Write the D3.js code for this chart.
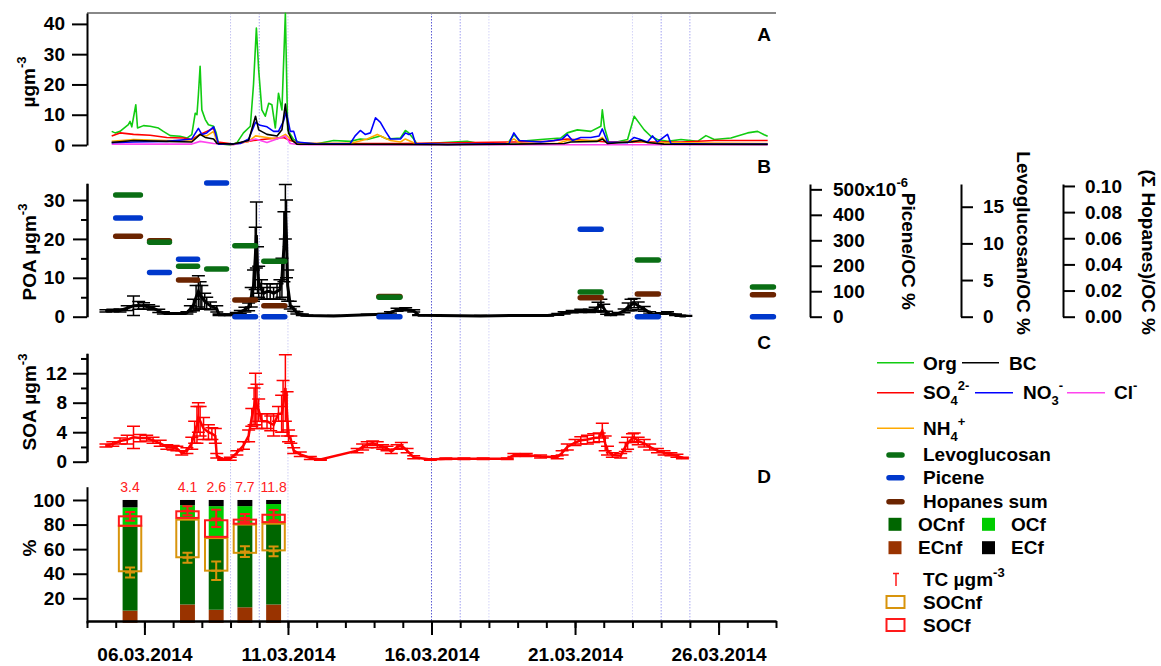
<!DOCTYPE html>
<html>
<head>
<meta charset="utf-8">
<script src="https://cdn.jsdelivr.net/npm/d3@7"></script>
<style>
  body { margin: 0; background: #fff; }
  text { font-family: "Liberation Sans", Arial, sans-serif; }
</style>
</head>
<body>
<svg id="chart" width="1161" height="666"></svg>
<script>
// ---- data (day of March 2014, value) ----
// panel A, aerosol species in µg m-3
const org = [[4.86,4.5],[4.98,4],[5.15,4.5],[5.44,6.7],[5.5,7.8],[5.56,6],[5.7,13.3],[5.76,5.6],[5.97,6.4],[6.2,6.2],[6.49,5.6],[6.66,4.5],[6.9,3.1],[7.24,2.9],[7.48,2.3],[7.65,3.4],[7.77,10.5],[7.83,10],[7.88,16.6],[7.94,26],[8.0,11.6],[8.12,8.4],[8.23,6.7],[8.41,6.2],[8.5,4],[8.58,0.4],[8.99,0],[9.22,0.7],[9.45,4],[9.69,6.2],[9.8,20],[9.9,38.6],[9.98,24.8],[10.09,11.6],[10.21,9.5],[10.33,13.8],[10.44,13.3],[10.56,5.6],[10.67,17.1],[10.79,11.6],[10.91,43.5],[10.99,5],[11.2,1.8],[11.43,0.7],[12.01,0.4],[12.59,1.5],[13.17,1.2],[13.52,2],[13.76,1.8],[14.22,3],[14.45,2],[14.92,2.3],[15.09,4.8],[15.21,4],[15.38,2],[15.5,0.3],[17.24,1.2],[17.71,0.4],[18.65,0.5],[18.87,3.4],[19.1,1.2],[19.8,1.8],[20.5,2.3],[20.73,4],[21.08,5],[21.55,4.5],[21.9,6.2],[21.95,11.6],[22.03,5.6],[22.19,0.4],[22.83,1.8],[23.06,9.5],[23.23,7.3],[23.41,5],[23.64,2.9],[23.87,1.8],[24.22,1.2],[24.69,1.8],[25.27,1.2],[25.56,3.1],[25.85,1.8],[26.43,2.3],[27.01,4],[27.36,4.5],[27.59,3.4],[27.71,2.9]];
const bc = [[4.86,0.8],[5.62,1.5],[6.78,1.2],[7.65,1],[7.94,3.5],[8.12,2.5],[8.41,2],[8.53,0.5],[9.1,0.3],[9.63,1.5],[9.87,9.5],[9.98,5],[10.27,3.5],[10.62,3],[10.79,5],[10.91,13.5],[11.02,4],[11.15,1.5],[11.31,0.3],[14.92,0.2],[16.55,0.1],[18.87,0.3],[20.62,0.5],[20.85,1],[21.78,1.2],[21.95,2],[22.13,0.5],[22.94,1],[23.29,1.5],[23.52,0.8],[24.1,0.3],[27.71,0.2]];
const so4 = [[4.86,3],[5.15,4],[5.62,3.5],[6.2,3.2],[6.78,2.5],[7.36,2.3],[7.65,1.8],[7.94,3.5],[8.17,4.5],[8.41,5.5],[8.55,1],[9.1,0.3],[9.8,1.5],[10.27,2],[10.85,2.5],[11.08,1.5],[11.43,0.5],[14.92,0.5],[18.87,1],[20.04,1.2],[20.73,2],[21.43,1.5],[22.13,1],[24.69,1],[25.85,1.5],[27.71,1.5]];
const no3 = [[4.86,0.8],[5.62,1],[6.78,1.2],[7.65,2],[7.88,5.5],[8.0,3.5],[8.17,4],[8.41,6],[8.5,3],[8.58,0.3],[9.34,0.5],[9.63,2],[9.87,7.5],[10.03,6.5],[10.27,6],[10.5,4.5],[10.67,4.5],[10.85,8],[10.94,11],[11.08,4.5],[11.2,4.5],[11.31,1],[12.01,0.3],[13.17,0.5],[13.34,3],[13.52,4.8],[13.69,3.5],[13.87,4],[14.05,9],[14.22,7.5],[14.4,4.5],[14.57,2],[14.92,2],[15.09,4],[15.21,3.5],[15.33,4],[15.44,0.5],[16.55,0.2],[18.7,0.5],[18.87,4],[19.05,1.5],[19.8,1],[20.27,1.5],[20.56,2],[20.73,3.5],[20.91,1.5],[21.2,2.5],[21.55,2.5],[21.84,3],[21.95,5.3],[22.13,1],[22.83,0.8],[23.06,2.5],[23.23,2],[23.52,1],[23.7,3],[23.87,1],[24.22,3.5],[24.34,0.5],[25.85,0.3],[27.71,0.3]];
const nh4 = [[4.86,1.2],[5.62,1.8],[6.78,1.5],[7.65,1.3],[7.94,3.5],[8.17,3],[8.41,4.5],[8.55,0.5],[9.1,0.2],[9.63,1.2],[9.87,3],[10.27,2.5],[10.62,2],[10.91,3.5],[11.08,2],[11.31,0.5],[13.17,0.5],[13.76,2],[14.11,3.5],[14.57,1.5],[14.92,1],[15.09,2],[15.44,0.5],[16.0,0.3],[18.6,0.4],[18.87,2],[19.1,0.5],[20.4,0.6],[20.73,1.5],[21.78,1.5],[21.95,2.5],[22.13,0.5],[23.06,1.5],[23.52,0.8],[27.71,0.5]];
const cl = [[4.86,0.3],[7.65,0.3],[7.94,1.2],[8.41,0.5],[9.1,0.1],[9.87,2],[10.27,0.8],[10.91,3],[11.08,0.5],[11.43,0.1],[27.71,0.1]];

// panel B, POA (day, value, error)
const poa = [[4.66,1.5,0.3],[4.9,1.6,0.3],[5.15,1.6,0.4],[5.4,2.2,0.6],[5.62,2.8,2.5],[5.8,2.9,1],[5.97,2.8,0.8],[6.15,2.5,0.6],[6.31,2.2,0.5],[6.5,1.5,0.4],[6.66,1,0.3],[6.9,0.8,0.2],[7.24,0.8,0.2],[7.48,1,0.3],[7.6,2,0.8],[7.71,3,1.5],[7.8,5,3],[7.88,6.5,4],[7.94,5.5,3.5],[8.0,5,3],[8.1,4,2],[8.17,3.5,1.5],[8.3,2.8,1],[8.52,2,0.8],[8.6,0.5,0.2],[8.99,0.5,0.2],[9.2,0.8,0.3],[9.34,1.2,0.4],[9.5,1.8,0.6],[9.63,2.5,1],[9.72,5,2.5],[9.8,8,4],[9.86,15,8],[9.9,21,8.5],[9.94,12,6],[9.98,9,4],[10.08,7,2.5],[10.15,6,1.5],[10.27,6.5,2],[10.38,6.5,2],[10.5,6,1.5],[10.62,6.5,2],[10.72,7,2.5],[10.79,10,5],[10.86,18,9],[10.91,27,7],[10.95,20,10],[10.99,8,4],[11.08,3,1],[11.2,2,0.6],[11.31,1,0.3],[11.5,0.5,0.2],[11.66,0.3,0.1],[12.59,0.2,0.1],[13.76,0.5,0.1],[14.34,0.6,0.2],[14.57,1,0.3],[14.8,1.8,0.4],[15.1,1.9,0.4],[15.38,1.5,0.3],[15.55,0.4,0.1],[17.71,0.2,0.1],[18.87,0.3,0.1],[20.04,0.3,0.1],[20.4,0.6,0.2],[20.62,1,0.3],[20.9,1.3,0.3],[21.2,1.5,0.4],[21.5,1.5,0.4],[21.7,1.8,0.6],[21.8,2.5,1.2],[21.9,3,1.5],[22.0,2.2,1],[22.1,1,0.4],[22.24,0.5,0.2],[22.5,0.8,0.3],[22.71,1.5,0.5],[22.85,2.5,1],[22.95,3,1.5],[23.06,3.5,1.2],[23.2,2.8,1],[23.41,2,0.6],[23.6,1,0.3],[23.76,0.5,0.2],[24.0,0.8,0.2],[24.22,1,0.3],[24.5,0.5,0.2],[24.69,0.2,0.1],[24.86,0.2,0.1]];

// panel B, filter samples (start day, end day) and ratios
const sampleStart = [5.0, 6.18, 7.19, 8.17, 9.15, 10.16, 14.17, 21.18, 23.17, 27.18];
const sampleEnd = [5.86, 6.87, 7.85, 8.86, 9.87, 10.89, 14.9, 21.91, 23.9, 27.91];
const levoglucosan = [16.6, 10.15, 6.87, 6.5, 9.68, 7.55, 2.65, 3.37, 7.73, 4.05];
const picene = [388, 174, 226, 525, 0, 0, 0, 343, 0, 0]; // x10^-6 %
const hopanes = [0.0615, 0.0581, 0.0281, null, 0.0128, 0.0084, 0.0155, 0.0145, 0.0174, 0.0168];

// panel C, SOA (day, value, error)
const soa = [[4.66,2.2,0.2],[4.9,2.4,0.3],[5.15,2.8,0.4],[5.4,3,0.6],[5.62,3.3,1.5],[5.85,3.2,0.5],[6.08,3.2,0.4],[6.3,2.9,0.4],[6.55,2.5,0.4],[6.78,2,0.3],[7.0,1.9,0.3],[7.13,1.8,0.3],[7.3,1.2,0.3],[7.48,1.5,0.4],[7.65,2.5,0.8],[7.75,4,1.5],[7.83,5,2.5],[7.88,6,2],[7.94,5.5,2],[8.06,4.5,1.5],[8.23,4,1],[8.35,3.8,0.8],[8.47,3.5,1],[8.52,0.8,0.3],[8.76,0.3,0.1],[8.99,0.4,0.2],[9.22,1.2,0.3],[9.45,2.2,0.5],[9.63,3.5,0.8],[9.74,6,1.2],[9.82,7.5,2.5],[9.87,8.5,3.5],[9.92,7.5,3],[9.98,7,1.5],[10.09,5.5,1],[10.27,5.5,1],[10.4,5.2,1],[10.5,5,1.5],[10.67,6.5,1],[10.78,6.5,2.5],[10.83,7.5,3.5],[10.91,10,4.5],[10.97,6.5,3],[11.02,3.5,0.8],[11.1,3,0.5],[11.2,1.5,0.4],[11.43,1,0.3],[11.78,0.5,0.2],[12.13,0.3,0.1],[13.41,1.5,0.3],[13.6,2,0.4],[13.76,2.3,0.4],[13.95,2.5,0.3],[14.11,2.3,0.4],[14.3,2,0.3],[14.45,1.8,0.3],[14.6,1.4,0.3],[14.8,2,0.3],[14.95,2.2,0.4],[15.15,1.5,0.3],[15.38,0.6,0.2],[15.96,0.3,0.1],[16.5,0.4,0.1],[17.13,0.4,0.1],[17.8,0.4,0.1],[18.64,0.4,0.1],[18.87,0.9,0.2],[19.3,0.9,0.2],[19.8,0.7,0.2],[20.38,0.6,0.2],[20.55,1.2,0.3],[20.73,2,0.4],[21.0,2.6,0.4],[21.2,2.9,0.5],[21.43,3,0.6],[21.65,3.2,0.6],[21.84,3.3,0.6],[21.95,4.2,1],[22.05,2.5,1],[22.13,1.5,0.6],[22.3,0.9,0.3],[22.59,0.8,0.3],[22.75,2,0.6],[22.83,2.5,0.8],[23.0,3.2,0.6],[23.06,3.3,0.6],[23.2,2.8,0.5],[23.41,2.5,0.5],[23.6,2,0.4],[23.87,1.5,0.3],[24.1,1.2,0.3],[24.34,1,0.2],[24.55,0.8,0.2],[24.74,0.5,0.1]];

// panel D, 14C source apportionment (% of TC)
const barDays = [5.5, 7.5, 8.5, 9.5, 10.5];
const tcLabels = ["3.4", "4.1", "2.6", "7.7", "11.8"];
const ecnf = [10, 15, 10.7, 12.7, 15];
const ocnf = [69, 70, 58.3, 68, 66.5];
const ocf = [15, 10.7, 26, 14.3, 15.2];
const ecf = [6, 4.3, 5, 5, 3.3];
const socnfBox = [[42, 79], [53.4, 84], [42.5, 69], [57, 80], [59, 80.7]];
const socnfErr = [[41, 4], [53, 4], [42.5, 7.5], [58, 4.4], [58.2, 4]];
const socfBox = [[79, 86.7], [85.4, 90.8], [70, 83.5], [80.7, 84], [82, 88]];
const socfErr = [[86.7, 3.5], [91.2, 3.6], [85, 7], [85.3, 3.3], [87.7, 4.2]];

// dotted day markers
const markDays = [9, 10, 11, 16, 17, 18, 23, 24, 25];
const markShade = ["#c4c4f0", "#a4a4ec", "#d0d0f4", "#5c5cd4", "#a0a0f0", "#d4d4f8", "#d4d4f8", "#a0a0f0", "#a8a8f0"];
const majorDays = [6, 11, 16, 21, 26];

// ---- drawing ----
const FONT = '"Liberation Sans", Arial, sans-serif';
const day = (d) => new Date(Date.UTC(2014, 2, 1) + (d - 1) * 864e5);
const svg = d3.select("#chart");
svg.append("rect").attr("width", 1161).attr("height", 666).attr("fill", "#fff");

const x = d3.scaleUtc().domain([day(4), day(28)]).range([87, 776]);
const yA = d3.scaleLinear().domain([0, 43.6]).range([145, 13]);
const yB = d3.scaleLinear().domain([0, 34.3]).range([316.7, 183.3]);
const yPic = d3.scaleLinear().domain([0, 521]).range([316.7, 184]);
const yLevo = d3.scaleLinear().domain([0, 18.1]).range([316.7, 184]);
const yHop = d3.scaleLinear().domain([0, 0.1015]).range([316.7, 184]);
const yC = d3.scaleLinear().domain([0, 14.7]).range([461.7, 353.3]);
const yD = d3.scaleLinear().domain([0, 110.8]).range([622.9, 486.7]);

const styleAxis = (g) => {
  g.attr("font-family", FONT).attr("font-size", 19).attr("font-weight", "bold");
  g.select(".domain").attr("stroke", "#000").attr("stroke-width", 2);
  g.selectAll(".tick line").attr("stroke", "#000").attr("stroke-width", 2);
  g.selectAll(".tick text").attr("fill", "#000");
};

// rich text with sub/superscripts
const rich = (sel, parts, small = 13) => {
  let off = 0;
  parts.forEach((p) => {
    const target = p.sup ? -9 : p.sub ? 6 : 0;
    sel.append("tspan").attr("dy", target - off)
      .attr("font-size", p.sup || p.sub ? small : null).text(p.t);
    off = target;
  });
};

// day marker lines
svg.append("g").selectAll("line").data(markDays).join("line")
  .attr("x1", (d) => x(day(d))).attr("x2", (d) => x(day(d)))
  .attr("y1", 13).attr("y2", 621)
  .attr("stroke", (d, i) => markShade[i]).attr("stroke-width", 1)
  .attr("stroke-dasharray", "1.5,1.5");

// ---- panel A ----
svg.append("line").attr("x1", 87).attr("x2", 776).attr("y1", 13).attr("y2", 13)
  .attr("stroke", "#888").attr("stroke-width", 2);
svg.append("g").attr("transform", "translate(87,0)")
  .call(d3.axisLeft(yA).tickValues([0, 10, 20, 30, 40]).tickSize(15).tickSizeOuter(0).tickPadding(7))
  .call(styleAxis);

const lineA = d3.line().x((d) => x(day(d[0]))).y((d) => yA(d[1]));
const seriesA = [
  { data: org, color: "#11cc11" },
  { data: so4, color: "#ff0000" },
  { data: nh4, color: "#ffaa00" },
  { data: cl, color: "#ff44ee" },
  { data: no3, color: "#0000ff" },
  { data: bc, color: "#000000" },
];
svg.append("g").selectAll("path").data(seriesA).join("path")
  .attr("d", (s) => lineA(s.data)).attr("fill", "none")
  .attr("stroke", (s) => s.color).attr("stroke-width", 1.6)
  .attr("stroke-linejoin", "round");

// ---- panel B ----
svg.append("g").attr("transform", "translate(87,0)")
  .call(d3.axisLeft(yB).tickValues([0, 10, 20, 30]).tickSize(14).tickSizeOuter(0).tickPadding(8))
  .call(styleAxis);
svg.append("g").attr("transform", "translate(87,0)")
  .call(d3.axisLeft(yB).tickValues([5, 15, 25]).tickSize(6).tickSizeOuter(0).tickFormat(""))
  .call(styleAxis);

const errPath = (xs, ys, capHalf) => (d) => {
  const cx = xs(day(d[0]));
  const y1 = ys(d[1] - d[2]);
  const y2 = ys(d[1] + d[2]);
  return `M${cx},${y1}V${y2}M${cx - capHalf},${y1}H${cx + capHalf}M${cx - capHalf},${y2}H${cx + capHalf}`;
};
svg.append("g").selectAll("path").data(poa).join("path")
  .attr("d", errPath(x, yB, 6.5)).attr("fill", "none")
  .attr("stroke", "#000").attr("stroke-width", 1.5);
svg.append("path")
  .attr("d", d3.line().x((d) => x(day(d[0]))).y((d) => yB(d[1]))(poa))
  .attr("fill", "none").attr("stroke", "#000").attr("stroke-width", 3);

const sampleBars = (values, scale, color) => {
  svg.append("g").selectAll("line")
    .data(values.map((v, i) => ({ v, i })).filter((d) => d.v != null))
    .join("line")
    .attr("x1", (d) => x(day(sampleStart[d.i]))).attr("x2", (d) => x(day(sampleEnd[d.i])))
    .attr("y1", (d) => scale(d.v)).attr("y2", (d) => scale(d.v))
    .attr("stroke", color).attr("stroke-width", 5.5).attr("stroke-linecap", "round");
};
sampleBars(hopanes, yHop, "#6b2400");
sampleBars(picene, yPic, "#0038cc");
sampleBars(levoglucosan, yLevo, "#0a6e14");

// right axes
const gPic = svg.append("g").attr("transform", "translate(810,0)")
  .call(d3.axisRight(yPic).tickValues([0, 100, 200, 300, 400, 500]).tickSize(12).tickSizeOuter(0).tickPadding(11)
    .tickFormat((d) => (d === 500 ? "500x10" : d)))
  .call(styleAxis);
gPic.selectAll(".tick text").filter((d) => d === 500)
  .append("tspan").attr("dy", -9).attr("font-size", 13).text("-6");
svg.append("g").attr("transform", "translate(961,0)")
  .call(d3.axisRight(yLevo).tickValues([0, 5, 10, 15]).tickSize(12).tickSizeOuter(0).tickPadding(10))
  .call(styleAxis);
svg.append("g").attr("transform", "translate(1063,0)")
  .call(d3.axisRight(yHop).tickValues([0, 0.02, 0.04, 0.06, 0.08, 0.1]).tickSize(12).tickSizeOuter(0).tickPadding(10)
    .tickFormat(d3.format(".2f")))
  .call(styleAxis);

const vTitle = (tx, ty, label) =>
  svg.append("text").attr("transform", `translate(${tx},${ty}) rotate(90)`)
    .attr("text-anchor", "end").attr("font-size", 19).attr("font-weight", "bold")
    .attr("font-family", FONT).text(label);
vTitle(902, 310, "Picene/OC %");
vTitle(1017, 335, "Levoglucosan/OC %");
vTitle(1142, 335, "(\u03A3 Hopanes)/OC %");

// ---- panel C ----
svg.append("g").attr("transform", "translate(87,0)")
  .call(d3.axisLeft(yC).tickValues([0, 4, 8, 12]).tickSize(14).tickSizeOuter(0).tickPadding(6))
  .call(styleAxis);
svg.append("g").attr("transform", "translate(87,0)")
  .call(d3.axisLeft(yC).tickValues([2, 6, 10, 14]).tickSize(6).tickSizeOuter(0).tickFormat(""))
  .call(styleAxis);
svg.append("g").selectAll("path").data(soa).join("path")
  .attr("d", errPath(x, yC, 6.5)).attr("fill", "none")
  .attr("stroke", "#ff0000").attr("stroke-width", 1.5);
svg.append("path")
  .attr("d", d3.line().x((d) => x(day(d[0]))).y((d) => yC(d[1]))(soa))
  .attr("fill", "none").attr("stroke", "#ff0000").attr("stroke-width", 2.5);

// ---- panel D ----
const bw = x(day(1.52)) - x(day(1));
const boxW = x(day(1.78)) - x(day(1));
const stackKeys = ["ecnf", "ocnf", "ocf", "ecf"];
const stackColors = { ecnf: "#993300", ocnf: "#006600", ocf: "#00cc00", ecf: "#000000" };
const rows = barDays.map((d, i) => ({ d, ecnf: ecnf[i], ocnf: ocnf[i], ocf: ocf[i], ecf: ecf[i] }));
const stacked = d3.stack().keys(stackKeys)(rows);
svg.append("g").selectAll("g").data(stacked).join("g")
  .attr("fill", (s) => stackColors[s.key])
  .selectAll("rect").data((s) => s).join("rect")
  .attr("x", (d) => x(day(d.data.d)) - bw / 2).attr("width", bw)
  .attr("y", (d) => yD(d[1])).attr("height", (d) => yD(d[0]) - yD(d[1]));

const boxes = (box, err, color) => {
  const g = svg.append("g").attr("fill", "none").attr("stroke", color).attr("stroke-width", 2);
  g.selectAll("rect").data(box).join("rect")
    .attr("x", (d, i) => x(day(barDays[i])) - boxW / 2).attr("width", boxW)
    .attr("y", (d) => yD(d[1])).attr("height", (d) => yD(d[0]) - yD(d[1]));
  g.selectAll("path").data(err).join("path")
    .attr("d", (d, i) => {
      const cx = x(day(barDays[i]));
      const y0 = yD(d[0]);
      const y1 = yD(d[0] - d[1]);
      const y2 = yD(d[0] + d[1]);
      return `M${cx},${y1}V${y2}M${cx - 5},${y1}H${cx + 5}M${cx - 5},${y2}H${cx + 5}M${cx - 5},${y0}H${cx + 5}`;
    });
};
boxes(socnfBox, socnfErr, "#d8940c");
boxes(socfBox, socfErr, "#ff1a1a");

svg.append("g").selectAll("text").data(tcLabels).join("text")
  .attr("x", (d, i) => x(day(barDays[i]))).attr("y", 492)
  .attr("text-anchor", "middle").attr("font-size", 14).attr("fill", "#ff2020")
  .attr("font-family", FONT).text((d) => d);

svg.append("g").attr("transform", "translate(87,0)")
  .call(d3.axisLeft(yD).tickValues([20, 40, 60, 80, 100]).tickSize(14).tickSizeOuter(0).tickPadding(8))
  .call(styleAxis);

// x axis
svg.append("g").attr("transform", "translate(0,621)")
  .call(d3.axisBottom(x).ticks(d3.utcDay.every(1)).tickSize(7).tickSizeOuter(0).tickFormat(""))
  .call(styleAxis);
svg.append("g").attr("transform", "translate(0,621)")
  .call(d3.axisBottom(x).tickValues(majorDays.map(day)).tickSize(14).tickSizeOuter(0).tickPadding(13)
    .tickFormat(d3.utcFormat("%d.%m.%Y")))
  .call(styleAxis);

// axis titles
const yTitle = (tx, ty, parts) => {
  const t = svg.append("text").attr("transform", `translate(${tx},${ty}) rotate(-90)`)
    .attr("text-anchor", "middle").attr("font-size", 19).attr("font-weight", "bold")
    .attr("font-family", FONT);
  rich(t, parts);
};
yTitle(35, 82, [{ t: "\u00B5gm" }, { t: "-3", sup: true }]);
yTitle(36, 252, [{ t: "POA \u00B5gm" }, { t: "-3", sup: true }]);
yTitle(36, 402, [{ t: "SOA \u00B5gm" }, { t: "-3", sup: true }]);
yTitle(36, 548, [{ t: "%" }]);

// panel letters
[["A", 41], ["B", 173], ["C", 349], ["D", 483]].forEach(([l, ty]) => {
  svg.append("text").attr("x", 771).attr("y", ty).attr("text-anchor", "end")
    .attr("font-size", 19).attr("font-weight", "bold").attr("font-family", FONT).text(l);
});

// ---- legend ----
const lg = svg.append("g").attr("font-family", FONT).attr("font-size", 19).attr("font-weight", "bold");
const lgText = (tx, ty, parts) => rich(lg.append("text").attr("x", tx).attr("y", ty), parts);
const lgLine = (x1, x2, ty, color, w = 1.5, cap = "butt") =>
  lg.append("line").attr("x1", x1).attr("x2", x2).attr("y1", ty).attr("y2", ty)
    .attr("stroke", color).attr("stroke-width", w).attr("stroke-linecap", cap);
const lgSquare = (sx, sy, color) =>
  lg.append("rect").attr("x", sx).attr("y", sy - 6.5).attr("width", 13).attr("height", 13).attr("fill", color);

lgLine(877, 914, 362.7, "#11cc11"); lgText(923, 369.5, [{ t: "Org" }]);
lgLine(962, 999, 362.7, "#000"); lgText(1009, 369.5, [{ t: "BC" }]);
lgLine(877, 914, 392.7, "#ff0000"); lgText(923, 399.3, [{ t: "SO" }, { t: "4", sub: true }, { t: "2-", sup: true }]);
lgLine(975, 1013, 392.7, "#0000ff"); lgText(1023, 399.3, [{ t: "NO" }, { t: "3", sub: true }, { t: "-", sup: true }]);
lgLine(1067, 1105, 392.7, "#ff44ee"); lgText(1114, 399.3, [{ t: "Cl" }, { t: "-", sup: true }]);
lgLine(877, 914, 428.3, "#ffaa00"); lgText(923, 435, [{ t: "NH" }, { t: "4", sub: true }, { t: "+", sup: true }]);
lgLine(889, 902, 455, "#0a6e14", 5.5, "round"); lgText(923, 461, [{ t: "Levoglucosan" }]);
lgLine(889, 902, 477.7, "#0038cc", 5.5, "round"); lgText(923, 484, [{ t: "Picene" }]);
lgLine(889, 902, 501.7, "#6b2400", 5.5, "round"); lgText(923, 508, [{ t: "Hopanes sum" }]);
lgSquare(888.5, 524.3, "#006600"); lgText(918, 531, [{ t: "OCnf" }]);
lgSquare(982, 524.3, "#00cc00"); lgText(1011, 531, [{ t: "OCf" }]);
lgSquare(888.5, 547.7, "#993300"); lgText(918, 554, [{ t: "ECnf" }]);
lgSquare(982, 547.7, "#000000"); lgText(1011, 554, [{ t: "ECf" }]);
lg.append("path").attr("d", "M893,573.5H899M896,573.5V586").attr("stroke", "#ff1a1a").attr("stroke-width", 1.5).attr("fill", "none");
lgText(923, 585.5, [{ t: "TC \u00B5gm" }, { t: "-3", sup: true }]);
lg.append("rect").attr("x", 886.5).attr("y", 596).attr("width", 18).attr("height", 12).attr("fill", "none").attr("stroke", "#d8940c").attr("stroke-width", 2);
lgText(923, 608.5, [{ t: "SOCnf" }]);
lg.append("rect").attr("x", 886.5).attr("y", 619).attr("width", 18).attr("height", 12).attr("fill", "none").attr("stroke", "#ff1a1a").attr("stroke-width", 2);
lgText(923, 631.5, [{ t: "SOCf" }]);
</script>
</body>
</html>
